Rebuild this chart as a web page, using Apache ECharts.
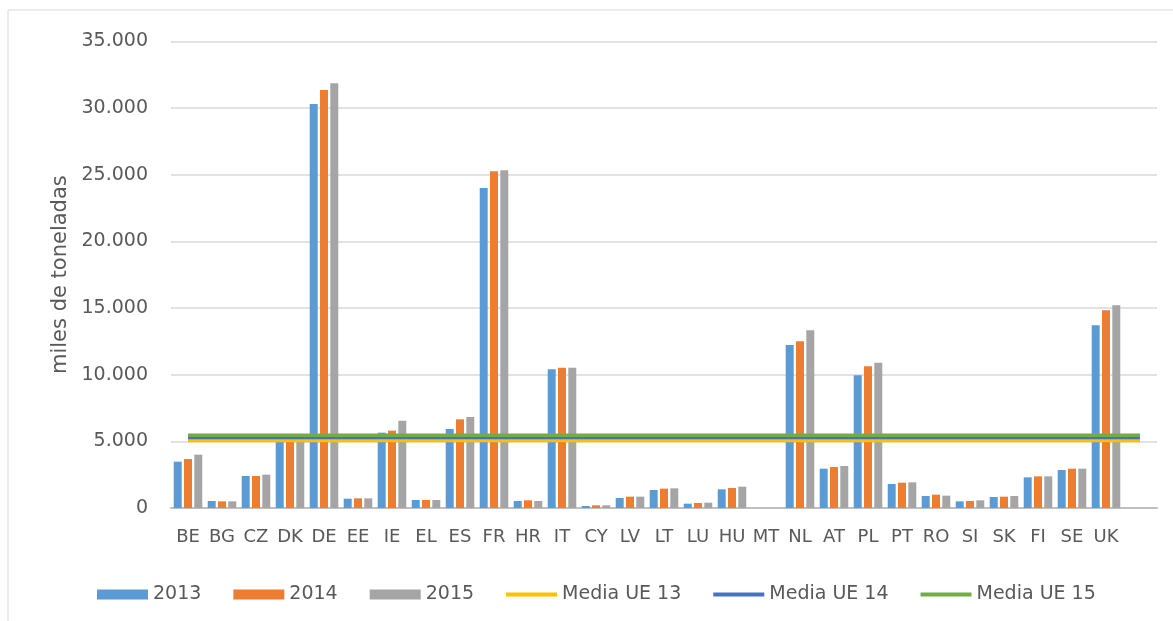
<!DOCTYPE html>
<html>
<head>
<meta charset="utf-8">
<script src="https://cdn.jsdelivr.net/npm/echarts@6/dist/echarts.min.js"></script>
<style>
html,body{margin:0;padding:0;background:#fff;}
#chart{width:1173px;height:621px;}
</style>
</head>
<body>
<div id="chart"></div>
<script>
var categories = ['BE','BG','CZ','DK','DE','EE','IE','EL','ES','FR','HR','IT','CY','LV','LT','LU','HU','MT','NL','AT','PL','PT','RO','SI','SK','FI','SE','UK',''];
var v2013 = [3475,525,2400,5100,30300,700,5650,600,5925,24000,525,10400,150,750,1350,325,1400,0,12225,2950,9950,1800,900,500,825,2300,2850,13700,null];
var v2014 = [3675,500,2400,5150,31350,725,5800,600,6650,25250,575,10525,200,850,1450,375,1500,0,12500,3075,10625,1900,1000,525,850,2375,2950,14825,null];
var v2015 = [4000,500,2500,5200,31850,725,6550,600,6825,25325,525,10525,200,850,1475,400,1600,0,13325,3150,10900,1925,925,575,900,2375,2950,15200,null];
var mediaUE13 = 5070;
var mediaUE14 = 5290;
var mediaUE15 = 5465;
var yTicks = [0,5000,10000,15000,20000,25000,30000,35000];

function flat(v){ return categories.map(function(){ return v; }); }
function fmt(v){ return String(v).replace(/\B(?=(\d{3})+(?!\d))/g,'.'); }

var chart = echarts.init(document.getElementById('chart'));
var FONT = 'DejaVu Sans';
var TXT = '#595959';
var LINE_ICON = 'path://M0,0H51V4H0Z';
var barBase = {type:'bar', barCategoryGap:'16%', barGap:'29%'};
chart.setOption({
  animation:false,
  textStyle:{fontFamily:FONT},
  graphic:[{type:'rect', shape:{x:8,y:10,width:1200,height:700}, style:{fill:'none', stroke:'#d9d9d9', lineWidth:1}, silent:true}],
  grid:{left:171, right:16, top:41.3, bottom:113},
  legend:{
    left:97, top:585, padding:0, itemWidth:51, itemHeight:10, itemGap:32,
    textStyle:{color:TXT, fontSize:19, fontFamily:FONT},
    data:[
      {name:'2013', icon:'rect'},
      {name:'2014', icon:'rect'},
      {name:'2015', icon:'rect'},
      {name:'Media UE 13', icon:LINE_ICON},
      {name:'Media UE 14', icon:LINE_ICON},
      {name:'Media UE 15', icon:LINE_ICON}
    ]
  },
  xAxis:{
    type:'category', data:categories, boundaryGap:true,
    axisLine:{lineStyle:{color:'#bfbfbf', width:2}},
    axisTick:{show:false},
    axisLabel:{color:TXT, fontSize:18, margin:20, interval:0, fontFamily:FONT}
  },
  yAxis:{
    type:'value', min:yTicks[0], max:yTicks[yTicks.length-1], interval:5000,
    name:'miles de toneladas', nameLocation:'middle', nameGap:100, nameRotate:90,
    nameTextStyle:{color:TXT, fontSize:21, fontFamily:FONT},
    axisLine:{show:false}, axisTick:{show:false},
    axisLabel:{color:TXT, fontSize:19, margin:23, formatter:fmt, fontFamily:FONT},
    splitLine:{lineStyle:{color:'#d9d9d9', width:1.7}}
  },
  series:[
    Object.assign({name:'2013', data:v2013, itemStyle:{color:'#5b9bd5'}}, barBase),
    Object.assign({name:'2014', data:v2014, itemStyle:{color:'#ed7d31'}}, barBase),
    Object.assign({name:'2015', data:v2015, itemStyle:{color:'#a5a5a5'}}, barBase),
    {name:'Media UE 13', type:'line', data:flat(mediaUE13), symbol:'none', lineStyle:{color:'#ffc000', width:3.5}, itemStyle:{color:'#ffc000'}},
    {name:'Media UE 14', type:'line', data:flat(mediaUE14), symbol:'none', lineStyle:{color:'#4472c4', width:3.5}, itemStyle:{color:'#4472c4'}},
    {name:'Media UE 15', type:'line', data:flat(mediaUE15), symbol:'none', lineStyle:{color:'#70ad47', width:3.5}, itemStyle:{color:'#70ad47'}}
  ]
});
</script>
</body>
</html>
